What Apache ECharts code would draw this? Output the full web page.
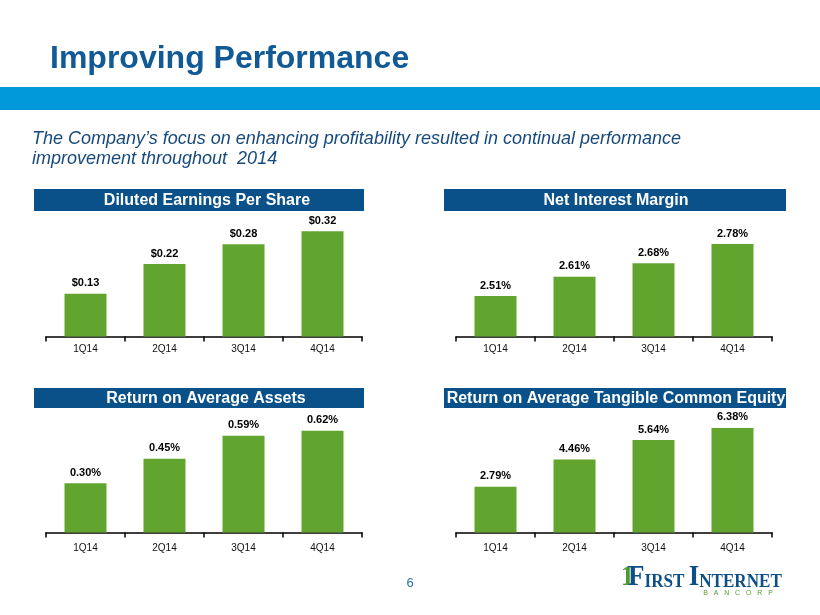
<!DOCTYPE html>
<html>
<head>
<meta charset="utf-8">
<script src="https://cdn.jsdelivr.net/npm/echarts@6/dist/echarts.min.js"></script>
<style>
html,body{margin:0;padding:0;background:#fff;}
#c{width:820px;height:615px;}
</style>
</head>
<body>
<div id="c"></div>
<script>
// ---- data ----
const categories = ['1Q14', '2Q14', '3Q14', '4Q14'];
const epsValues = [0.13, 0.22, 0.28, 0.32];
const nimValues = [2.51, 2.61, 2.68, 2.78];
const roaValues = [0.30, 0.45, 0.59, 0.62];
const rotceValues = [2.79, 4.46, 5.64, 6.38];
const panelTitles = ['Diluted Earnings Per Share', 'Net Interest Margin', 'Return on Average Assets', 'Return on Average Tangible Common Equity'];
const pageTitle = 'Improving Performance';
const subtitleLines = ['The Company\u2019s focus on enhancing profitability resulted in continual performance', 'improvement throughout  2014'];

// ---- layout/style ----
const FONT = '"Liberation Sans", Arial, sans-serif';
const SERIF = '"Liberation Serif", "Times New Roman", serif';
const GREEN = '#62a52e';
const BAND = '#0a5089';

const grids = [
  {left: 46, right: 458, top: 215, bottom: 278.5},
  {left: 456, right: 48, top: 215, bottom: 278.5},
  {left: 46, right: 458, top: 412, bottom: 82.5},
  {left: 456, right: 48, top: 412, bottom: 82.5}
];
const yRanges = [
  {min: 0, max: 0.369},
  {min: 2.3, max: 2.931},
  {min: 0, max: 0.735},
  {min: 0, max: 7.35}
];
const labelMargins = [8, 8, 11, 11];
const seriesData = [epsValues, nimValues, roaValues, rotceValues];
const formatters = [
  v => '$' + v.toFixed(2),
  v => v.toFixed(2) + '%',
  v => v.toFixed(2) + '%',
  v => v.toFixed(2) + '%'
];

const chart = echarts.init(document.getElementById('c'), null, {renderer: 'canvas'});

const xAxes = grids.map((g, i) => ({
  type: 'category',
  gridIndex: i,
  data: categories,
  axisLine: {lineStyle: {color: '#000', width: 1.5}},
  axisTick: {show: true, length: 5, lineStyle: {color: '#000', width: 1.5}},
  axisLabel: {color: '#111', fontSize: 10, fontFamily: FONT, margin: labelMargins[i]},
  splitLine: {show: false}
}));
const yAxes = grids.map((g, i) => ({
  type: 'value',
  gridIndex: i,
  min: yRanges[i].min,
  max: yRanges[i].max,
  show: false,
  splitLine: {show: false}
}));
const series = seriesData.map((d, i) => ({
  type: 'bar',
  xAxisIndex: i,
  yAxisIndex: i,
  data: d,
  barWidth: 42,
  itemStyle: {color: GREEN},
  label: {
    show: true,
    position: 'top',
    distance: 5,
    formatter: p => formatters[i](p.value),
    color: '#000',
    fontSize: 11,
    fontWeight: 'bold',
    fontFamily: FONT
  },
  emphasis: {disabled: true},
  animation: false
}));

const bandRects = [
  {x: 34, y: 189, w: 330, h: 22, cx: 207},
  {x: 444, y: 189, w: 342, h: 22, cx: 616},
  {x: 34, y: 388, w: 330, h: 20, cx: 206},
  {x: 444, y: 388, w: 342, h: 20, cx: 616}
];

const graphics = [
  {type: 'rect', shape: {x: 0, y: 87, width: 820, height: 23}, style: {fill: '#0098d8'}},
  {type: 'text', x: 50, y: 75, style: {text: pageTitle, fill: '#115a96', font: 'bold 32px ' + FONT, verticalAlign: 'bottom'}},
  {type: 'text', x: 32, y: 130, style: {text: subtitleLines[0], fill: '#174a7c', font: 'italic 18px ' + FONT, verticalAlign: 'top'}},
  {type: 'text', x: 32, y: 150, style: {text: subtitleLines[1], fill: '#174a7c', font: 'italic 18px ' + FONT, verticalAlign: 'top'}},
  {type: 'text', x: 410, y: 583, style: {text: '6', fill: '#2a6fb0', font: '13px ' + FONT, align: 'center', verticalAlign: 'middle'}}
];
bandRects.forEach((b, i) => {
  graphics.push({type: 'rect', shape: {x: b.x, y: b.y, width: b.w, height: b.h}, style: {fill: BAND}});
  graphics.push({type: 'text', x: b.cx, y: b.y + b.h / 2 + 0.5, style: {text: panelTitles[i], fill: '#fff', font: 'bold 16px ' + FONT, align: 'center', verticalAlign: 'middle'}});
});
// logo
graphics.push({type: 'text', x: 621, y: 592, scaleX: 0.87, style: {text: '1', fill: '#4a9a2e', font: 'bold 30px ' + SERIF, verticalAlign: 'bottom'}});
graphics.push({
  type: 'text', x: 628, y: 592, scaleX: 0.9,
  style: {
    text: '{b|F}{s|IRST }{b|I}{s|NTERNET}',
    verticalAlign: 'bottom',
    rich: {
      b: {font: 'bold 30px ' + SERIF, fill: '#0d4f86', lineHeight: 30, verticalAlign: 'bottom'},
      s: {font: 'bold 19px ' + SERIF, fill: '#0d4f86', lineHeight: 30, verticalAlign: 'bottom'}
    }
  }
});
graphics.push({type: 'text', x: 738, y: 593, style: {text: 'B   A   N   C   O   R   P', fill: '#5a9a2e', font: '7px ' + FONT, align: 'center', verticalAlign: 'middle'}});

chart.setOption({
  animation: false,
  backgroundColor: '#fff',
  grid: grids,
  xAxis: xAxes,
  yAxis: yAxes,
  series: series,
  graphic: graphics
});
</script>
</body>
</html>
